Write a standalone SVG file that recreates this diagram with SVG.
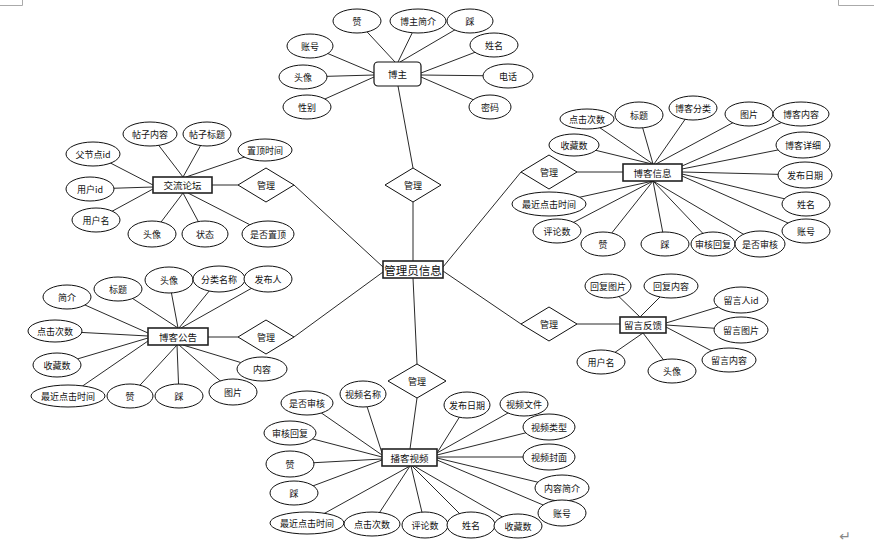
<svg xmlns="http://www.w3.org/2000/svg" width="874" height="547" viewBox="0 0 874 547">
<style>
.c line{stroke:#111;stroke-width:0.9}
ellipse{fill:#fff;stroke:#111;stroke-width:1}
polygon{fill:#fff;stroke:#111;stroke-width:1}
.e{fill:#fff;stroke:#222;stroke-width:1.6}
text{font-family:"Noto Sans CJK SC","Noto Sans",sans-serif;font-size:9px;fill:#111;text-anchor:middle;dominant-baseline:central}
.t{font-size:9.5px}
.m{font-size:11.5px}
.mark{fill:none;stroke:#aaa;stroke-width:1}
</style>
<rect width="874" height="547" fill="#fff"/>
<path class="mark" d="M0,5.5H22.5V0M838.5,0V5.5H874"/>
<text x="845" y="536" style="font-family:'DejaVu Sans',sans-serif;font-size:14px;fill:#888">↵</text>

<g class="c" id="connectors">
<line x1="413" y1="202" x2="413" y2="261"/>
<line x1="413" y1="168" x2="398" y2="86"/>
<line x1="294" y1="185" x2="383" y2="267"/>
<line x1="294" y1="337" x2="383" y2="272"/>
<line x1="443" y1="267" x2="521" y2="172"/>
<line x1="443" y1="271" x2="521" y2="324"/>
<line x1="413" y1="278" x2="417" y2="364"/>
<line x1="357" y1="21" x2="395" y2="62"/>
<line x1="418" y1="21" x2="398" y2="62"/>
<line x1="470" y1="21" x2="400" y2="62"/>
<line x1="310" y1="46" x2="374" y2="73"/>
<line x1="303" y1="77" x2="374" y2="75"/>
<line x1="307" y1="107" x2="374" y2="77"/>
<line x1="494" y1="45" x2="421" y2="73"/>
<line x1="508" y1="76" x2="421" y2="75"/>
<line x1="490" y1="107" x2="421" y2="77"/>
<line x1="577" y1="172" x2="623" y2="172"/>
<line x1="587" y1="119" x2="653" y2="164"/>
<line x1="574" y1="145" x2="652" y2="164"/>
<line x1="639" y1="115" x2="653" y2="164"/>
<line x1="693" y1="108" x2="654" y2="164"/>
<line x1="749" y1="114" x2="656" y2="164"/>
<line x1="801" y1="114" x2="682" y2="166"/>
<line x1="803" y1="145" x2="682" y2="169"/>
<line x1="805" y1="175" x2="682" y2="172"/>
<line x1="806" y1="204" x2="682" y2="174"/>
<line x1="806" y1="231" x2="682" y2="176"/>
<line x1="549" y1="204" x2="653" y2="181"/>
<line x1="557" y1="231" x2="653" y2="181"/>
<line x1="603" y1="244" x2="653" y2="181"/>
<line x1="665" y1="244" x2="653" y2="181"/>
<line x1="713" y1="244" x2="653" y2="181"/>
<line x1="760" y1="244" x2="653" y2="181"/>
<line x1="238" y1="185" x2="212" y2="185"/>
<line x1="150" y1="134" x2="183" y2="177"/>
<line x1="207" y1="134" x2="183" y2="177"/>
<line x1="265" y1="150" x2="186" y2="177"/>
<line x1="93" y1="154" x2="153" y2="185"/>
<line x1="90" y1="189" x2="153" y2="187"/>
<line x1="96" y1="220" x2="153" y2="189"/>
<line x1="152" y1="234" x2="183" y2="193"/>
<line x1="205" y1="234" x2="183" y2="193"/>
<line x1="268" y1="234" x2="188" y2="193"/>
<line x1="238" y1="337" x2="208" y2="337"/>
<line x1="67" y1="297" x2="148" y2="333"/>
<line x1="118" y1="289" x2="178" y2="328"/>
<line x1="169" y1="280" x2="178" y2="328"/>
<line x1="219" y1="279" x2="179" y2="328"/>
<line x1="268" y1="279" x2="181" y2="328"/>
<line x1="55" y1="331" x2="148" y2="336"/>
<line x1="57" y1="365" x2="148" y2="338"/>
<line x1="68" y1="396" x2="148" y2="341"/>
<line x1="130" y1="396" x2="177" y2="345"/>
<line x1="179" y1="396" x2="177" y2="345"/>
<line x1="233" y1="392" x2="179" y2="345"/>
<line x1="262" y1="369" x2="183" y2="345"/>
<line x1="577" y1="324" x2="620" y2="324"/>
<line x1="608" y1="286" x2="640" y2="317"/>
<line x1="671" y1="286" x2="640" y2="317"/>
<line x1="741" y1="300" x2="666" y2="323"/>
<line x1="741" y1="330" x2="666" y2="325"/>
<line x1="729" y1="360" x2="666" y2="327"/>
<line x1="601" y1="362" x2="643" y2="333"/>
<line x1="672" y1="371" x2="643" y2="333"/>
<line x1="417" y1="398" x2="410" y2="449"/>
<line x1="307" y1="403" x2="382" y2="455"/>
<line x1="363" y1="394" x2="382" y2="453"/>
<line x1="290" y1="433" x2="382" y2="457"/>
<line x1="290" y1="464" x2="382" y2="459"/>
<line x1="294" y1="493" x2="382" y2="460"/>
<line x1="307" y1="523" x2="410" y2="466"/>
<line x1="372" y1="524" x2="410" y2="466"/>
<line x1="425" y1="525" x2="411" y2="466"/>
<line x1="471" y1="525" x2="412" y2="466"/>
<line x1="518" y1="526" x2="414" y2="466"/>
<line x1="467" y1="405" x2="437" y2="453"/>
<line x1="524" y1="404" x2="437" y2="453"/>
<line x1="549" y1="427" x2="437" y2="455"/>
<line x1="549" y1="457" x2="437" y2="457"/>
<line x1="562" y1="488" x2="437" y2="458"/>
<line x1="562" y1="513" x2="437" y2="460"/>
</g>

<g id="admin"><rect class="e" x="383" y="261" width="60" height="17"/><text class="m" x="413" y="269.5">管理员信息</text></g>

<g id="rel-top"><polygon points="413,168 441,185 413,202 385,185"/><text x="413" y="185">管理</text></g>
<g id="rel-forum"><polygon points="266,168 294,185 266,202 238,185"/><text x="266" y="185">管理</text></g>
<g id="rel-blog"><polygon points="549,155 577,172 549,189 521,172"/><text x="549" y="172">管理</text></g>
<g id="rel-notice"><polygon points="266,320 294,337 266,354 238,337"/><text x="266" y="337">管理</text></g>
<g id="rel-msg"><polygon points="549,307 577,324 549,341 521,324"/><text x="549" y="324">管理</text></g>
<g id="rel-video"><polygon points="417,364 446,381 417,398 388,381"/><text x="417" y="381">管理</text></g>

<g id="blogger">
<rect x="374" y="62" width="47" height="24" rx="4" fill="#fff" stroke="#111" stroke-width="1.2"/><text class="t" x="397.5" y="74">博主</text>
<ellipse cx="357" cy="21" rx="24" ry="12"/><text x="357" y="21">赞</text>
<ellipse cx="418" cy="21" rx="28" ry="12"/><text x="418" y="21">博主简介</text>
<ellipse cx="470" cy="21" rx="23" ry="12"/><text x="470" y="21">踩</text>
<ellipse cx="310" cy="46" rx="23" ry="12"/><text x="310" y="46">账号</text>
<ellipse cx="494" cy="45" rx="24" ry="12"/><text x="494" y="45">姓名</text>
<ellipse cx="303" cy="77" rx="24" ry="12"/><text x="303" y="77">头像</text>
<ellipse cx="508" cy="76" rx="25" ry="12"/><text x="508" y="76">电话</text>
<ellipse cx="307" cy="107" rx="24" ry="12"/><text x="307" y="107">性别</text>
<ellipse cx="490" cy="107" rx="21" ry="12"/><text x="490" y="107">密码</text>
</g>

<g id="bloginfo">
<rect class="e" x="623" y="164" width="59" height="17"/><text class="t" x="652.5" y="172.5">博客信息</text>
<ellipse cx="587" cy="119" rx="27" ry="10"/><text x="587" y="119">点击次数</text>
<ellipse cx="574" cy="145" rx="25" ry="11"/><text x="574" y="145">收藏数</text>
<ellipse cx="639" cy="115" rx="24" ry="13"/><text x="639" y="115">标题</text>
<ellipse cx="693" cy="108" rx="24" ry="12"/><text x="693" y="108">博客分类</text>
<ellipse cx="749" cy="114" rx="24" ry="12"/><text x="749" y="114">图片</text>
<ellipse cx="801" cy="114" rx="28" ry="12"/><text x="801" y="114">博客内容</text>
<ellipse cx="803" cy="145" rx="27" ry="13"/><text x="803" y="145">博客详细</text>
<ellipse cx="805" cy="175" rx="27" ry="13"/><text x="805" y="175">发布日期</text>
<ellipse cx="806" cy="204" rx="24" ry="12"/><text x="806" y="204">姓名</text>
<ellipse cx="806" cy="231" rx="24" ry="12"/><text x="806" y="231">账号</text>
<ellipse cx="549" cy="204" rx="37" ry="12"/><text x="549" y="204">最近点击时间</text>
<ellipse cx="557" cy="231" rx="24" ry="12"/><text x="557" y="231">评论数</text>
<ellipse cx="603" cy="244" rx="22" ry="12"/><text x="603" y="244">赞</text>
<ellipse cx="665" cy="244" rx="24" ry="12"/><text x="665" y="244">踩</text>
<ellipse cx="713" cy="244" rx="22" ry="12"/><text x="713" y="244">审核回复</text>
<ellipse cx="760" cy="244" rx="25" ry="13"/><text x="760" y="244">是否审核</text>
</g>

<g id="forum">
<rect class="e" x="153" y="177" width="59" height="16"/><text class="t" x="182.5" y="185">交流论坛</text>
<ellipse cx="150" cy="134" rx="27" ry="12"/><text x="150" y="134">帖子内容</text>
<ellipse cx="207" cy="134" rx="24" ry="12"/><text x="207" y="134">帖子标题</text>
<ellipse cx="265" cy="150" rx="27" ry="11"/><text x="265" y="150">置顶时间</text>
<ellipse cx="93" cy="154" rx="27" ry="12"/><text x="93" y="154">父节点id</text>
<ellipse cx="90" cy="189" rx="24" ry="12"/><text x="90" y="189">用户id</text>
<ellipse cx="96" cy="220" rx="24" ry="12"/><text x="96" y="220">用户名</text>
<ellipse cx="152" cy="234" rx="24" ry="13"/><text x="152" y="234">头像</text>
<ellipse cx="205" cy="234" rx="23" ry="13"/><text x="205" y="234">状态</text>
<ellipse cx="268" cy="234" rx="26" ry="13"/><text x="268" y="234">是否置顶</text>
</g>

<g id="notice">
<rect class="e" x="148" y="328" width="60" height="17"/><text class="t" x="178" y="336.5">博客公告</text>
<ellipse cx="67" cy="297" rx="24" ry="12"/><text x="67" y="297">简介</text>
<ellipse cx="118" cy="289" rx="24" ry="12"/><text x="118" y="289">标题</text>
<ellipse cx="169" cy="280" rx="24" ry="13"/><text x="169" y="280">头像</text>
<ellipse cx="219" cy="279" rx="26" ry="13"/><text x="219" y="279">分类名称</text>
<ellipse cx="268" cy="279" rx="24" ry="13"/><text x="268" y="279">发布人</text>
<ellipse cx="55" cy="331" rx="27" ry="11"/><text x="55" y="331">点击次数</text>
<ellipse cx="57" cy="365" rx="24" ry="12"/><text x="57" y="365">收藏数</text>
<ellipse cx="68" cy="396" rx="37" ry="11"/><text x="68" y="396">最近点击时间</text>
<ellipse cx="130" cy="396" rx="23" ry="12"/><text x="130" y="396">赞</text>
<ellipse cx="179" cy="396" rx="24" ry="12"/><text x="179" y="396">踩</text>
<ellipse cx="233" cy="392" rx="24" ry="13"/><text x="233" y="392">图片</text>
<ellipse cx="262" cy="369" rx="25" ry="12"/><text x="262" y="369">内容</text>
</g>

<g id="feedback">
<rect class="e" x="620" y="317" width="46" height="16"/><text class="t" x="643" y="325">留言反馈</text>
<ellipse cx="608" cy="286" rx="23" ry="12"/><text x="608" y="286">回复图片</text>
<ellipse cx="671" cy="286" rx="27" ry="12"/><text x="671" y="286">回复内容</text>
<ellipse cx="741" cy="300" rx="27" ry="13"/><text x="741" y="300">留言人id</text>
<ellipse cx="741" cy="330" rx="27" ry="13"/><text x="741" y="330">留言图片</text>
<ellipse cx="729" cy="360" rx="27" ry="12"/><text x="729" y="360">留言内容</text>
<ellipse cx="601" cy="362" rx="24" ry="12"/><text x="601" y="362">用户名</text>
<ellipse cx="672" cy="371" rx="24" ry="12"/><text x="672" y="371">头像</text>
</g>

<g id="video">
<rect class="e" x="382" y="449" width="55" height="17"/><text class="t" x="409.5" y="457.5">播客视频</text>
<ellipse cx="307" cy="403" rx="26" ry="12"/><text x="307" y="403">是否审核</text>
<ellipse cx="363" cy="394" rx="23" ry="13"/><text x="363" y="394">视频名称</text>
<ellipse cx="290" cy="433" rx="26" ry="12"/><text x="290" y="433">审核回复</text>
<ellipse cx="290" cy="464" rx="24" ry="13"/><text x="290" y="464">赞</text>
<ellipse cx="294" cy="493" rx="24" ry="12"/><text x="294" y="493">踩</text>
<ellipse cx="307" cy="523" rx="37" ry="11"/><text x="307" y="523">最近点击时间</text>
<ellipse cx="372" cy="524" rx="28" ry="12"/><text x="372" y="524">点击次数</text>
<ellipse cx="425" cy="525" rx="23" ry="13"/><text x="425" y="525">评论数</text>
<ellipse cx="471" cy="525" rx="24" ry="13"/><text x="471" y="525">姓名</text>
<ellipse cx="518" cy="526" rx="24" ry="12"/><text x="518" y="526">收藏数</text>
<ellipse cx="467" cy="405" rx="23" ry="13"/><text x="467" y="405">发布日期</text>
<ellipse cx="524" cy="404" rx="24" ry="12"/><text x="524" y="404">视频文件</text>
<ellipse cx="549" cy="427" rx="26" ry="13"/><text x="549" y="427">视频类型</text>
<ellipse cx="549" cy="457" rx="26" ry="13"/><text x="549" y="457">视频封面</text>
<ellipse cx="562" cy="488" rx="27" ry="13"/><text x="562" y="488">内容简介</text>
<ellipse cx="562" cy="513" rx="24" ry="13"/><text x="562" y="513">账号</text>
</g>
</svg>
